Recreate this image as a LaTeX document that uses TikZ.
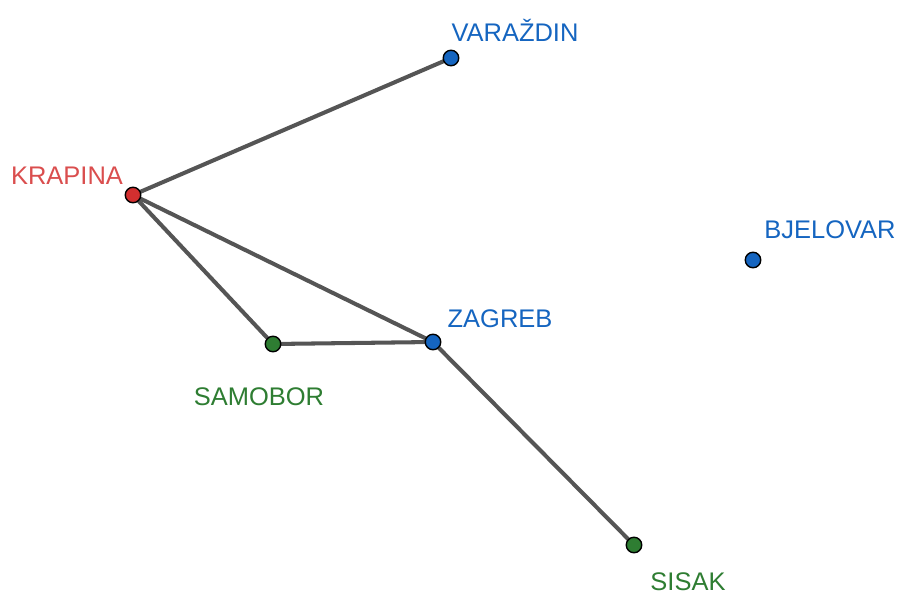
\documentclass[tikz,border=0pt]{standalone}
\usepackage{fontspec}
\setmainfont{Liberation Sans}
\usepackage{tikz}
\usetikzlibrary{backgrounds}

\definecolor{cityred}{HTML}{D32F2F}
\definecolor{cityblue}{HTML}{1565C0}
\definecolor{citygreen}{HTML}{2E7D32}
\definecolor{roadgray}{HTML}{555555}

\tikzset{
	town/.style={circle,draw=black,line width=0.8pt,fill=#1,inner sep=0pt,minimum size=0.31cm},
	townname/.style={text=#1,inner sep=0pt,font=\fontsize{14.5}{17}\selectfont},
	road/.style={roadgray,line width=2.3pt}
}

\begin{document}
\begin{tikzpicture}[x=0.02cm,y=-0.02cm]
	\useasboundingbox (0,0) rectangle (898,594);
\node[town=cityblue] (V) at (451,58) {};
\node[town=cityred] (K) at (133,195) {};
\node[town=cityblue] (B) at (753,260) {};
\node[town=cityblue] (Z) at (433,342) {};
\node[town=citygreen] (S) at (273,344) {};
\node[town=citygreen] (I) at (634,545) {};

\begin{pgfonlayer}{background}
\draw[road] (K.center) -- (V.center);
\draw[road] (K.center) -- (S.center);
\draw[road] (K.center) -- (Z.center);
\draw[road] (S.center) -- (Z.center);
\draw[road] (Z.center) -- (I.center);
\end{pgfonlayer}

\node[townname=cityblue] (VL) at (515,30) {VARAŽDIN};
\node[townname=cityred!85] (KL) at (67,176) {KRAPINA};
\node[townname=cityblue] (BL) at (830,230) {BJELOVAR};
\node[townname=cityblue] (ZL) at (500,319) {ZAGREB};
\node[townname=citygreen] (SL) at (259,397) {SAMOBOR};
\node[townname=citygreen] (IL) at (688,582) {SISAK};

\end{tikzpicture}
\end{document}
